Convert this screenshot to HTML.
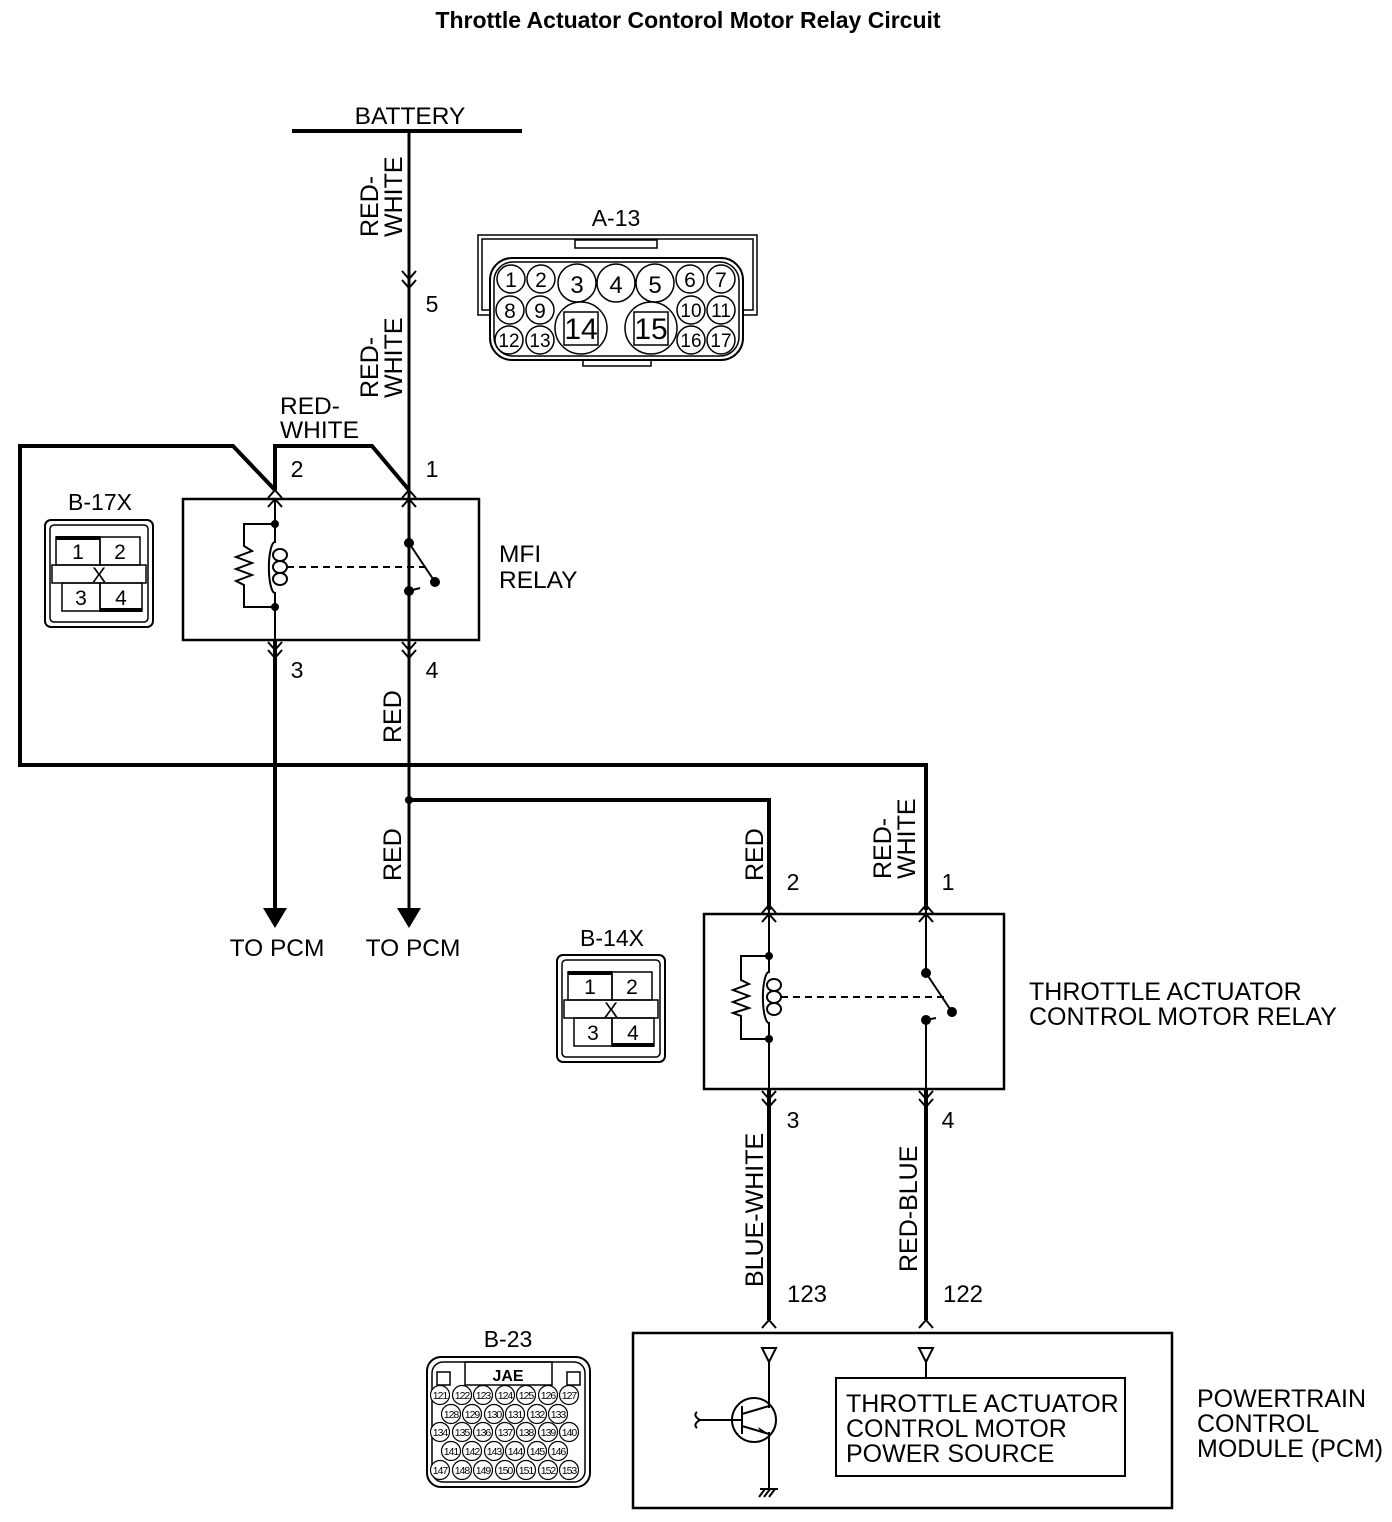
<!DOCTYPE html>
<html><head><meta charset="utf-8"><style>
html,body{margin:0;padding:0;background:#fff}
svg{display:block}
text{font-family:"Liberation Sans",sans-serif;fill:#000}
</style></head><body>
<svg width="1392" height="1522" viewBox="0 0 1392 1522" xmlns="http://www.w3.org/2000/svg">
<text x="688" y="28" font-size="23" font-weight="bold" text-anchor="middle">Throttle Actuator Contorol Motor Relay Circuit</text>

<!-- Battery -->
<line x1="292" y1="131" x2="522" y2="131" stroke="#000" stroke-width="4"/>
<text x="410" y="124" font-size="24.5" text-anchor="middle">BATTERY</text>
<line x1="409" y1="131" x2="409" y2="910" stroke="#000" stroke-width="3"/>
<g fill="none" stroke="#000" stroke-width="2">
<path d="M402 271 L409 279 L416 271 M402 280 L409 288 L416 280"/>
</g>
<text x="432" y="312" font-size="23" text-anchor="middle">5</text>
<g font-size="25">
<text transform="translate(378,237) rotate(-90)">RED-</text>
<text transform="translate(402,237) rotate(-90)">WHITE</text>
<text transform="translate(378,398) rotate(-90)">RED-</text>
<text transform="translate(402,398) rotate(-90)">WHITE</text>
</g>
<text x="280" y="414" font-size="24.5">RED-</text>
<text x="280" y="438" font-size="24.5">WHITE</text>

<g fill="none" stroke="#000" stroke-width="4">
<path d="M275 490 L275 446 L372 446 L409 490"/>
<path d="M275 490 L233 446 L20 446 L20 765 L926 765 L926 910"/>
<path d="M275 640 L275 910"/>
<path d="M409 800 L769 800 L769 910"/>
<path d="M769 1089 L769 1320 M926 1089 L926 1320"/>
</g>
<circle cx="409" cy="800" r="4"/>
<text x="297" y="477" font-size="23" text-anchor="middle">2</text>
<text x="432" y="477" font-size="23" text-anchor="middle">1</text>

<!-- MFI relay -->
<rect x="183" y="499" width="296" height="141" fill="none" stroke="#000" stroke-width="2.5"/>
<g fill="none" stroke="#000" stroke-width="2">
<path d="M268 498 L275 490 L282 498 M268 507 L275 499 L282 507"/>
<path d="M402 498 L409 490 L416 498 M402 507 L409 499 L416 507"/>
<path d="M268 642 L275 650 L282 642 M268 650 L275 658 L282 650"/>
<path d="M402 642 L409 650 L416 642 M402 650 L409 658 L416 650"/>
<path d="M275 499 V542 A6 25 0 0 0 275 593 V640"/>
<ellipse cx="280" cy="555" rx="7" ry="6"/><ellipse cx="280" cy="567" rx="7" ry="6"/><ellipse cx="280" cy="579" rx="7" ry="6"/>
<path d="M275 524 H244 V546 L252 551 L236 557 L252 563 L236 569 L252 575 L236 581 L244 585 V607 H275"/>
<path d="M409 499 V543 L435 582 M409 591 V640 M409 591 L420 588"/>
<line x1="287" y1="567" x2="430" y2="567" stroke-dasharray="7,5"/>
</g>
<circle cx="275" cy="524" r="4"/><circle cx="275" cy="607" r="4"/>
<circle cx="409" cy="543" r="5"/><circle cx="435" cy="582" r="5"/><circle cx="409" cy="591" r="5"/>
<text x="499" y="562" font-size="24.5">MFI</text>
<text x="499" y="588" font-size="24.5">RELAY</text>
<text x="297" y="678" font-size="23" text-anchor="middle">3</text>
<text x="432" y="678" font-size="23" text-anchor="middle">4</text>
<text transform="translate(401,743) rotate(-90)" font-size="25">RED</text>
<text transform="translate(401,881) rotate(-90)" font-size="25">RED</text>
<polygon points="263,908 287,908 275,928"/>
<polygon points="397,908 421,908 409,928"/>
<text x="277" y="956" font-size="24.5" text-anchor="middle">TO PCM</text>
<text x="413" y="956" font-size="24.5" text-anchor="middle">TO PCM</text>

<!-- B-17X -->
<g>
<rect x="45" y="520" width="108" height="107" rx="6" fill="none" stroke="#000" stroke-width="2"/>
<rect x="50" y="525" width="98" height="97" rx="4" fill="none" stroke="#000" stroke-width="1.5"/>
<g fill="none" stroke="#000" stroke-width="1.5">
<rect x="56" y="537" width="44" height="28"/><rect x="100" y="537" width="40" height="28"/>
<rect x="52" y="565" width="94" height="18"/>
<rect x="62" y="583" width="38" height="28"/><rect x="100" y="583" width="42" height="28"/>
</g>
<line x1="56" y1="538" x2="100" y2="538" stroke="#000" stroke-width="4"/>
<line x1="100" y1="610" x2="142" y2="610" stroke="#000" stroke-width="4"/>
<g font-size="21" text-anchor="middle"><text x="78" y="559">1</text><text x="120" y="559">2</text><text x="99" y="582">X</text><text x="81" y="605">3</text><text x="121" y="605">4</text></g>
</g>
<text x="100" y="510" font-size="23" text-anchor="middle">B-17X</text>
<g transform="translate(512,435)">
<rect x="45" y="520" width="108" height="107" rx="6" fill="none" stroke="#000" stroke-width="2"/>
<rect x="50" y="525" width="98" height="97" rx="4" fill="none" stroke="#000" stroke-width="1.5"/>
<g fill="none" stroke="#000" stroke-width="1.5">
<rect x="56" y="537" width="44" height="28"/><rect x="100" y="537" width="40" height="28"/>
<rect x="52" y="565" width="94" height="18"/>
<rect x="62" y="583" width="38" height="28"/><rect x="100" y="583" width="42" height="28"/>
</g>
<line x1="56" y1="538" x2="100" y2="538" stroke="#000" stroke-width="4"/>
<line x1="100" y1="610" x2="142" y2="610" stroke="#000" stroke-width="4"/>
<g font-size="21" text-anchor="middle"><text x="78" y="559">1</text><text x="120" y="559">2</text><text x="99" y="582">X</text><text x="81" y="605">3</text><text x="121" y="605">4</text></g>
</g>
<text x="612" y="946" font-size="23" text-anchor="middle">B-14X</text>

<!-- A-13 -->
<text x="616" y="226" font-size="23" text-anchor="middle">A-13</text>
<g fill="none" stroke="#000" stroke-width="1.5">
<path d="M490 315 H478 V235 H757 V315 H743"/>
<path d="M490 310 H482 V239 H753 V310 H743"/>
<rect x="575" y="240" width="82" height="8"/>
<rect x="490" y="258" width="253" height="102" rx="22" stroke-width="2"/>
<rect x="494" y="262" width="245" height="94" rx="19"/>
<rect x="583" y="360" width="68" height="6"/>
</g>
<g fill="none" stroke="#000" stroke-width="1.5">
<circle cx="511" cy="279" r="14"/><circle cx="541" cy="279" r="14"/><circle cx="577" cy="283" r="19"/><circle cx="616" cy="283" r="19"/><circle cx="655" cy="283" r="19"/><circle cx="690" cy="279" r="14"/><circle cx="721" cy="279" r="14"/>
<circle cx="510" cy="310" r="14"/><circle cx="540" cy="310" r="14"/><circle cx="691" cy="310" r="14"/><circle cx="721" cy="310" r="14"/>
<circle cx="509" cy="340" r="14"/><circle cx="540" cy="340" r="14"/><circle cx="691" cy="340" r="14"/><circle cx="721" cy="340" r="14"/>
<circle cx="581" cy="328" r="26"/><circle cx="651" cy="328" r="26"/>
<rect x="564" y="312" width="34" height="33"/><rect x="634" y="312" width="34" height="33"/>
</g>
<g font-size="21" text-anchor="middle">
<text x="511" y="287">1</text><text x="541" y="287">2</text><text x="577" y="293" font-size="24">3</text><text x="616" y="293" font-size="24">4</text><text x="655" y="293" font-size="24">5</text><text x="690" y="287">6</text><text x="721" y="287">7</text>
<text x="510" y="318">8</text><text x="540" y="318">9</text><text x="691" y="317" font-size="19">10</text><text x="721" y="317" font-size="19">11</text>
<text x="509" y="347" font-size="19">12</text><text x="540" y="347" font-size="19">13</text><text x="691" y="347" font-size="19">16</text><text x="721" y="347" font-size="19">17</text>
<text x="581" y="339" font-size="30">14</text><text x="651" y="339" font-size="30">15</text>
</g>

<!-- Throttle relay -->
<rect x="704" y="914" width="300" height="175" fill="none" stroke="#000" stroke-width="2.5"/>
<g fill="none" stroke="#000" stroke-width="2">
<path d="M762 913 L769 905 L776 913 M762 922 L769 914 L776 922"/>
<path d="M919 913 L926 905 L933 913 M919 922 L926 914 L933 922"/>
<path d="M762 1091 L769 1099 L776 1091 M762 1099 L769 1107 L776 1099"/>
<path d="M919 1091 L926 1099 L933 1091 M919 1099 L926 1107 L933 1099"/>
<path d="M762 1328 L769 1320 L776 1328 M919 1328 L926 1320 L933 1328"/>
<path d="M769 905 V972 A6 25 0 0 0 769 1023 V1089"/>
<ellipse cx="774" cy="985" rx="7" ry="6"/><ellipse cx="774" cy="997" rx="7" ry="6"/><ellipse cx="774" cy="1009" rx="7" ry="6"/>
<path d="M769 956 H741 V980 L749 984 L733 990 L749 996 L733 1002 L749 1008 L733 1013 L741 1016 V1039 H769"/>
<path d="M926 905 V973 L952 1012 M926 1020 V1089 M926 1020 L936 1018"/>
<line x1="781" y1="997" x2="944" y2="997" stroke-dasharray="7,5"/>
</g>
<circle cx="769" cy="956" r="4"/><circle cx="769" cy="1039" r="4"/>
<circle cx="926" cy="973" r="5"/><circle cx="952" cy="1012" r="5"/><circle cx="926" cy="1020" r="5"/>
<text x="793" y="890" font-size="23" text-anchor="middle">2</text>
<text x="948" y="890" font-size="23" text-anchor="middle">1</text>
<text transform="translate(763,881) rotate(-90)" font-size="25">RED</text>
<text transform="translate(891,879) rotate(-90)" font-size="25">RED-</text>
<text transform="translate(915,879) rotate(-90)" font-size="25">WHITE</text>
<text x="1029" y="1000" font-size="25">THROTTLE ACTUATOR</text>
<text x="1029" y="1025" font-size="25">CONTROL MOTOR RELAY</text>
<text x="793" y="1128" font-size="23" text-anchor="middle">3</text>
<text x="948" y="1128" font-size="23" text-anchor="middle">4</text>
<text transform="translate(763,1287) rotate(-90)" font-size="25">BLUE-WHITE</text>
<text transform="translate(917,1272) rotate(-90)" font-size="25">RED-BLUE</text>
<text x="807" y="1302" font-size="24" text-anchor="middle">123</text>
<text x="963" y="1302" font-size="24" text-anchor="middle">122</text>

<!-- PCM -->
<rect x="633" y="1333" width="539" height="175" fill="none" stroke="#000" stroke-width="2.5"/>
<g fill="none" stroke="#000" stroke-width="2">
<path d="M762 1348 H776 L769 1362 Z M919 1348 H933 L926 1362 Z"/>
<path d="M769 1362 V1408 M769 1432 V1488 M926 1362 V1378"/>
<circle cx="754" cy="1420" r="22"/>
<path d="M742 1406 V1434 M742 1420 H700 M742 1414 L769 1406 M742 1426 L769 1434"/>
<path d="M697 1412 C692 1416 700 1420 700 1420 C700 1420 692 1424 697 1428"/>
<path d="M759 1497 L765 1489 M764 1497 L770 1489 M769 1497 L775 1489 M760 1489 H778"/>
</g>
<polygon points="769,1434 758,1427 761,1433"/>
<rect x="836" y="1378" width="289" height="98" fill="none" stroke="#000" stroke-width="2"/>
<text x="846" y="1412" font-size="25">THROTTLE ACTUATOR</text>
<text x="846" y="1437" font-size="25">CONTROL MOTOR</text>
<text x="846" y="1462" font-size="25">POWER SOURCE</text>
<text x="1197" y="1407" font-size="25">POWERTRAIN</text>
<text x="1197" y="1432" font-size="25">CONTROL</text>
<text x="1197" y="1457" font-size="25">MODULE (PCM)</text>

<!-- B-23 -->
<text x="508" y="1347" font-size="23" text-anchor="middle">B-23</text>
<g fill="none" stroke="#000" stroke-width="1.5">
<rect x="427" y="1357" width="163" height="130" rx="14" stroke-width="2"/>
<rect x="432" y="1362" width="153" height="120" rx="11"/>
<rect x="465" y="1362" width="87" height="23"/>
<rect x="437" y="1372" width="13" height="13"/><rect x="567" y="1372" width="13" height="13"/>
</g>
<text x="508" y="1381" font-size="16" text-anchor="middle" font-weight="bold">JAE</text>
<g fill="#fff" stroke="#000" stroke-width="1.2">
<circle cx="440" cy="1395" r="9.5"/><circle cx="462" cy="1395" r="9.5"/><circle cx="483" cy="1395" r="9.5"/><circle cx="505" cy="1395" r="9.5"/><circle cx="526" cy="1395" r="9.5"/><circle cx="548" cy="1395" r="9.5"/><circle cx="569" cy="1395" r="9.5"/>
<circle cx="451" cy="1414" r="9.5"/><circle cx="472" cy="1414" r="9.5"/><circle cx="494" cy="1414" r="9.5"/><circle cx="515" cy="1414" r="9.5"/><circle cx="537" cy="1414" r="9.5"/><circle cx="558" cy="1414" r="9.5"/>
<circle cx="440" cy="1432" r="9.5"/><circle cx="462" cy="1432" r="9.5"/><circle cx="483" cy="1432" r="9.5"/><circle cx="505" cy="1432" r="9.5"/><circle cx="526" cy="1432" r="9.5"/><circle cx="548" cy="1432" r="9.5"/><circle cx="569" cy="1432" r="9.5"/>
<circle cx="451" cy="1451" r="9.5"/><circle cx="472" cy="1451" r="9.5"/><circle cx="494" cy="1451" r="9.5"/><circle cx="515" cy="1451" r="9.5"/><circle cx="537" cy="1451" r="9.5"/><circle cx="558" cy="1451" r="9.5"/>
<circle cx="440" cy="1470" r="9.5"/><circle cx="462" cy="1470" r="9.5"/><circle cx="483" cy="1470" r="9.5"/><circle cx="505" cy="1470" r="9.5"/><circle cx="526" cy="1470" r="9.5"/><circle cx="548" cy="1470" r="9.5"/><circle cx="569" cy="1470" r="9.5"/>
</g>
<g font-size="10.5" text-anchor="middle" letter-spacing="-1">
<text x="440" y="1399">121</text><text x="462" y="1399">122</text><text x="483" y="1399">123</text><text x="505" y="1399">124</text><text x="526" y="1399">125</text><text x="548" y="1399">126</text><text x="569" y="1399">127</text>
<text x="451" y="1418">128</text><text x="472" y="1418">129</text><text x="494" y="1418">130</text><text x="515" y="1418">131</text><text x="537" y="1418">132</text><text x="558" y="1418">133</text>
<text x="440" y="1436">134</text><text x="462" y="1436">135</text><text x="483" y="1436">136</text><text x="505" y="1436">137</text><text x="526" y="1436">138</text><text x="548" y="1436">139</text><text x="569" y="1436">140</text>
<text x="451" y="1455">141</text><text x="472" y="1455">142</text><text x="494" y="1455">143</text><text x="515" y="1455">144</text><text x="537" y="1455">145</text><text x="558" y="1455">146</text>
<text x="440" y="1474">147</text><text x="462" y="1474">148</text><text x="483" y="1474">149</text><text x="505" y="1474">150</text><text x="526" y="1474">151</text><text x="548" y="1474">152</text><text x="569" y="1474">153</text>
</g>
</svg>
</body></html>
